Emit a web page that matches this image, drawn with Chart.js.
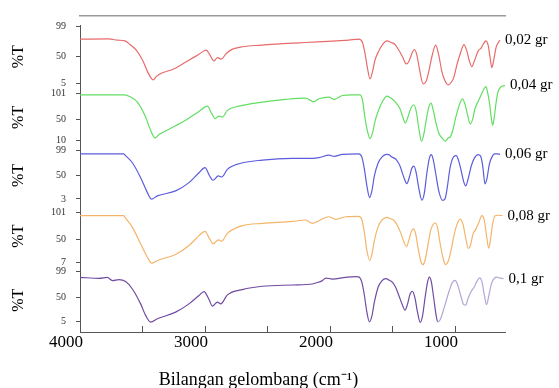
<!DOCTYPE html>
<html>
<head>
<meta charset="utf-8">
<script src="https://cdn.jsdelivr.net/npm/chart.js@4.4.1/dist/chart.umd.min.js"></script>
<style>
html,body{margin:0;padding:0;background:#fff;}
#wrap{width:559px;height:388px;position:relative;}
</style>
</head>
<body>
<div id="wrap"><canvas id="c" width="559" height="388"></canvas></div>
<script>
// ---- data (wavenumber cm-1 / %T) ----
const seriesLabels = ['0,02 gr', '0,04 gr', '0,06 gr', '0,08 gr', '0,1 gr'];
const xTickValues = [4000, 3500, 3000, 2500, 2000, 1500, 1000];
const xTickLabels = {4000: '4000', 3000: '3000', 2000: '2000', 1000: '1000'};
const yTicks1 = [5, 50, 99];
const yTicks2 = [10, 50, 101];
const yTicks3 = [3, 50, 99];
const yTicks4 = [7, 50, 101];
const yTicks5 = [5, 50, 99];
const xTitle = 'Bilangan gelombang (cm\u207B\u00B9)';
const yTitle = '%T';

const wn002 = [4000,3770,3700,3640,3600,3550,3500,3460,3430,3415,3390,3350,3250,3150,3050,2990,2960,2930,2900,2870,2830,2780,2700,2550,2400,2250,2100,1950,1850,1770,
  1740,1720,1700,1680,1660,1640,1610,1580,1545,1510,1480,1450,1420,1390,1370,1345,1325,1305,1285,1255,1230,1210,1185,1155,1130,1105,1080,1055,1030,1010,985,955,928,905,885,865,845,815,790,770,752,735,720,705,690,670,650,640];
const t002 = [78.2,78.7,76.6,75.5,69.4,60.3,43.9,24.8,13.8,11.2,16.6,22.0,29.2,41.1,53.1,60.3,52.0,42.3,47.7,45.5,54.7,61.9,65.7,68.4,70.6,72.2,73.8,75.5,76.6,78.2,
  72.7,54.7,30.2,12.8,24.8,43.9,58.6,69.4,75.5,72.7,69.4,60.3,49.3,37.4,41.1,54.7,61.2,52.1,30.2,4.6,9.6,24.8,49.3,68.4,52.1,24.8,9.6,3.0,7.3,15.0,35.7,56.3,69.4,58.6,42.3,32.9,42.3,58.6,64.0,71.1,75.5,68.4,49.3,31.3,43.9,65.7,73.8,76.6];

const wn004 = [4000,3650,3608,3541,3475,3435,3400,3368,3288,3155,3048,2981,2946,2920,2888,2861,2821,2728,2541,2355,2195,2155,2135,2088,2008,1968,1940,1901,1820,1760,
  1740,1720,1700,1680,1660,1640,1610,1580,1545,1520,1495,1470,1440,1415,1397,1375,1350,1330,1310,1290,1268,1250,1230,1210,1192,1175,1155,1130,1100,1075,1055,1040,1020,995,965,940,920,900,878,860,840,815,790,765,752,738,722,708,698,685,670,655,635,615,600];
const t004 = [98.3,98.3,95.6,83.9,54.9,29.1,14.2,20.8,31.1,48.5,65.9,76.2,61.5,51.8,56.8,54.9,67.9,76.2,83.9,89.2,91.7,87.2,84.5,90.5,93.6,89.2,92.0,96.9,98.3,98.3,
  88.0,53.0,27.2,13.0,23.9,46.6,69.2,85.3,95.6,93.0,88.6,82.0,71.1,53.0,43.3,56.2,73.7,78.9,65.9,33.6,7.8,20.8,49.8,73.7,82.0,69.2,46.6,23.9,13.0,7.8,14.2,15.6,27.2,53.0,78.9,90.5,80.1,59.5,41.3,49.8,71.1,85.3,98.3,111.0,114.3,101.4,78.9,49.8,38.8,56.2,85.3,104.7,113.0,115.7,116.3];

const wn006 = [4000,3650,3640,3581,3515,3461,3427,3381,3235,3128,3048,3000,2963,2936,2893,2867,2821,2728,2541,2301,2141,2088,2008,1968,1901,1770,
  1745,1725,1705,1683,1665,1645,1615,1585,1550,1530,1505,1470,1440,1410,1385,1365,1345,1328,1310,1290,1265,1245,1225,1205,1190,1175,1155,1130,1100,1080,1060,1040,1010,990,970,950,930,915,895,870,845,815,795,778,760,745,725,705,685,660,640];
const t006 = [91.5,91.5,89.0,74.0,44.8,15.5,2.6,9.1,18.8,35.0,54.5,64.3,48.1,39.7,48.1,46.1,61.1,72.1,79.3,82.6,82.6,84.0,89.0,86.5,90.4,91.5,
  85.1,61.7,28.6,5.8,18.8,48.1,73.4,85.1,90.4,90.0,85.1,80.2,67.6,46.1,33.1,46.1,63.7,67.6,53.9,24.7,0.7,15.0,53.9,83.1,90.0,81.2,53.9,18.8,0.3,3.2,28.6,63.7,86.1,88.0,77.3,57.8,36.4,28.6,42.2,67.6,83.1,90.0,87.1,67.6,32.5,42.2,71.5,85.1,91.5,91.5,90.4];

const wn008 = [4000,3650,3640,3581,3515,3461,3427,3381,3235,3128,3048,3000,2963,2936,2893,2867,2821,2701,2541,2301,2195,2141,2088,2008,1955,1875,1770,
  1745,1725,1705,1682,1665,1645,1615,1585,1545,1515,1490,1465,1435,1410,1388,1370,1350,1333,1315,1295,1275,1258,1240,1220,1195,1170,1155,1140,1120,1095,1075,1055,1035,1010,985,958,935,915,893,875,855,835,810,785,765,748,730,715,700,680,655,620];
const t008 = [94.1,94.1,90.9,72.4,41.6,16.7,5.6,10.6,21.8,38.4,57.0,65.0,50.9,41.6,49.0,46.4,61.2,75.5,79.8,83.5,86.1,79.8,84.8,92.2,87.2,92.2,92.8,
  86.6,62.5,29.2,10.6,21.8,47.7,73.7,85.7,90.9,88.5,85.7,77.4,62.5,45.9,36.6,47.7,64.4,69.4,60.7,32.9,10.6,2.7,10.6,34.7,66.2,79.2,80.5,71.8,44.0,14.3,2.7,8.8,25.5,55.1,77.4,87.9,77.4,53.3,32.9,40.3,60.7,68.1,81.1,94.1,84.8,57.0,33.4,51.4,77.4,94.1,95.0,94.1];

const wn01 = [4000,3848,3781,3741,3688,3635,3581,3515,3475,3435,3381,3235,3128,3048,3008,2968,2941,2901,2874,2821,2701,2541,2301,2141,2114,2061,2034,1981,1875,1795,1770,
  1745,1725,1705,1685,1665,1645,1615,1585,1552,1525,1500,1475,1450,1420,1400,1380,1360,1340,1320,1300,1278,1260,1240,1220,1205,1190,1170,1150,1138,
  1120,1085,1045,1020,1000,980,955,930,915,895,870,850,825,803,785,765,748,730,710,690,670,645,612];
const t01 = [88.4,86.5,88.4,82.2,84.1,80.3,66.2,37.8,15.8,3.1,9.3,22.0,37.8,53.7,61.3,46.1,33.4,41.0,37.8,54.9,65.1,71.4,73.8,75.7,77.6,82.2,87.1,85.2,88.4,89.8,89.4,
  78.9,54.3,22.0,3.6,14.4,41.0,69.5,81.8,86.0,82.7,78.9,69.5,54.3,35.3,25.8,37.2,56.2,61.9,48.6,22.0,2.5,14.4,48.6,78.9,89.0,80.8,48.6,14.4,3.6,
  6.9,31.5,63.8,78.9,82.7,75.1,54.3,36.3,35.3,48.6,61.9,68.5,80.8,87.5,80.8,54.3,36.3,52.4,75.1,85.6,89.0,87.5,86.0];
const lightFrom01 = 1138; // wavenumber where the 0,1 gr trace turns lighter

// ---- build chart ----
const toPts = (xs, ys) => xs.map((x, i) => ({x: x, y: ys[i]}));
const serif = 'Liberation Serif, Times New Roman, serif';
const axisColor = '#555';

function yAxis(min, max, ticks, weight) {
  return {
    type: 'linear', position: 'left', stack: 'left', stackWeight: weight,
    min: min, max: max,
    afterBuildTicks: s => { s.ticks = ticks.map(v => ({value: v})); },
    afterFit: s => { s.width = 80; },
    ticks: {font: {family: serif, size: 10}, color: '#333', padding: 10, autoSkip: false},
    grid: {drawOnChartArea: false, tickLength: 4, color: axisColor, tickWidth: 1},
    border: {color: axisColor, width: 1},
    title: {display: true, text: yTitle, font: {family: serif, size: 16}, color: '#000', padding: {top: 9, bottom: 22}}
  };
}

const colors = ['#e86b6b', '#62de62', '#5c5cdc', '#f4b46a', '#6f4ba2'];
const lightPurple = '#b5a5d5';
const sets = [[wn002, t002, 'y1'], [wn004, t004, 'y2'], [wn006, t006, 'y3'], [wn008, t008, 'y4'], [wn01, t01, 'y5']];

const datasets = sets.map((s, i) => {
  const ds = {
    label: seriesLabels[i], data: toPts(s[0], s[1]), yAxisID: s[2], xAxisID: 'x',
    borderColor: colors[i], borderWidth: 1.2, pointRadius: 0, fill: false,
    cubicInterpolationMode: 'monotone', clip: false
  };
  if (i === 4) {
    ds.segment = {borderColor: ctx => ctx.p0.parsed.x <= lightFrom01 ? lightPurple : colors[4]};
  }
  return ds;
});

const endLabels = {
  id: 'endLabels',
  afterDatasetsDraw(chart) {
    const ctx = chart.ctx;
    ctx.save();
    ctx.font = '15px ' + serif;
    ctx.fillStyle = '#000';
    ctx.textAlign = 'left';
    ctx.textBaseline = 'middle';
    chart.data.datasets.forEach((ds, i) => {
      const pts = chart.getDatasetMeta(i).data;
      const p = pts[pts.length - 1];
      ctx.fillText(ds.label, p.x + 5, p.y);
    });
    ctx.restore();
  }
};

const xTitlePlugin = {
  id: 'xTitlePlugin',
  afterDraw(chart) {
    const s = chart.scales.x;
    const ctx = chart.ctx;
    ctx.save();
    ctx.font = '18px ' + serif;
    ctx.fillStyle = '#000';
    ctx.textAlign = 'center';
    ctx.textBaseline = 'middle';
    ctx.fillText(xTitle, s.left + (s.right - s.left) * 0.42, s.top + 48);
    ctx.restore();
  }
};

new Chart(document.getElementById('c'), {
  type: 'line',
  data: {datasets: datasets},
  options: {
    responsive: false, animation: false,
    layout: {padding: {top: 14, right: 54, bottom: 36, left: 0}},
    plugins: {legend: {display: false}, tooltip: {enabled: false}},
    scales: {
      x: {
        type: 'linear', position: 'bottom', min: 600, max: 4000, reverse: true,
        afterBuildTicks: s => { s.ticks = xTickValues.map(v => ({value: v})); },
        afterFit: s => { s.height = 20; },
        ticks: {callback: v => xTickLabels[v] || '', font: {family: serif, size: 17}, color: '#000',
                labelOffset: -14, maxRotation: 0, autoSkip: false, padding: 6},
        grid: {drawOnChartArea: false, tickLength: -6, color: axisColor},
        border: {color: axisColor, width: 1}
      },
      xTop: {
        axis: 'x', type: 'linear', position: 'top', min: 600, max: 4000, reverse: true,
        ticks: {display: false}, grid: {display: false, drawTicks: false},
        afterFit: s => { s.height = 0; },
        border: {display: true, color: '#9a9a9a', width: 1.5}
      },
      y5: yAxis(-15.9, 105.5, yTicks5, 64),
      y4: yAxis(-4.2, 116.3, yTicks4, 65),
      y3: yAxis(-6.5, 104.6, yTicks3, 57),
      y2: yAxis(-3.8, 112.4, yTicks2, 60),
      y1: yAxis(-1.4, 100, yTicks1, 62),
      ySpace: {
        type: 'linear', position: 'left', stack: 'left', stackWeight: 10,
        afterFit: s => { s.width = 80; },
        ticks: {display: false}, grid: {display: false, drawTicks: false}, border: {display: false}
      }
    }
  },
  plugins: [endLabels, xTitlePlugin]
});
</script>
</body>
</html>
